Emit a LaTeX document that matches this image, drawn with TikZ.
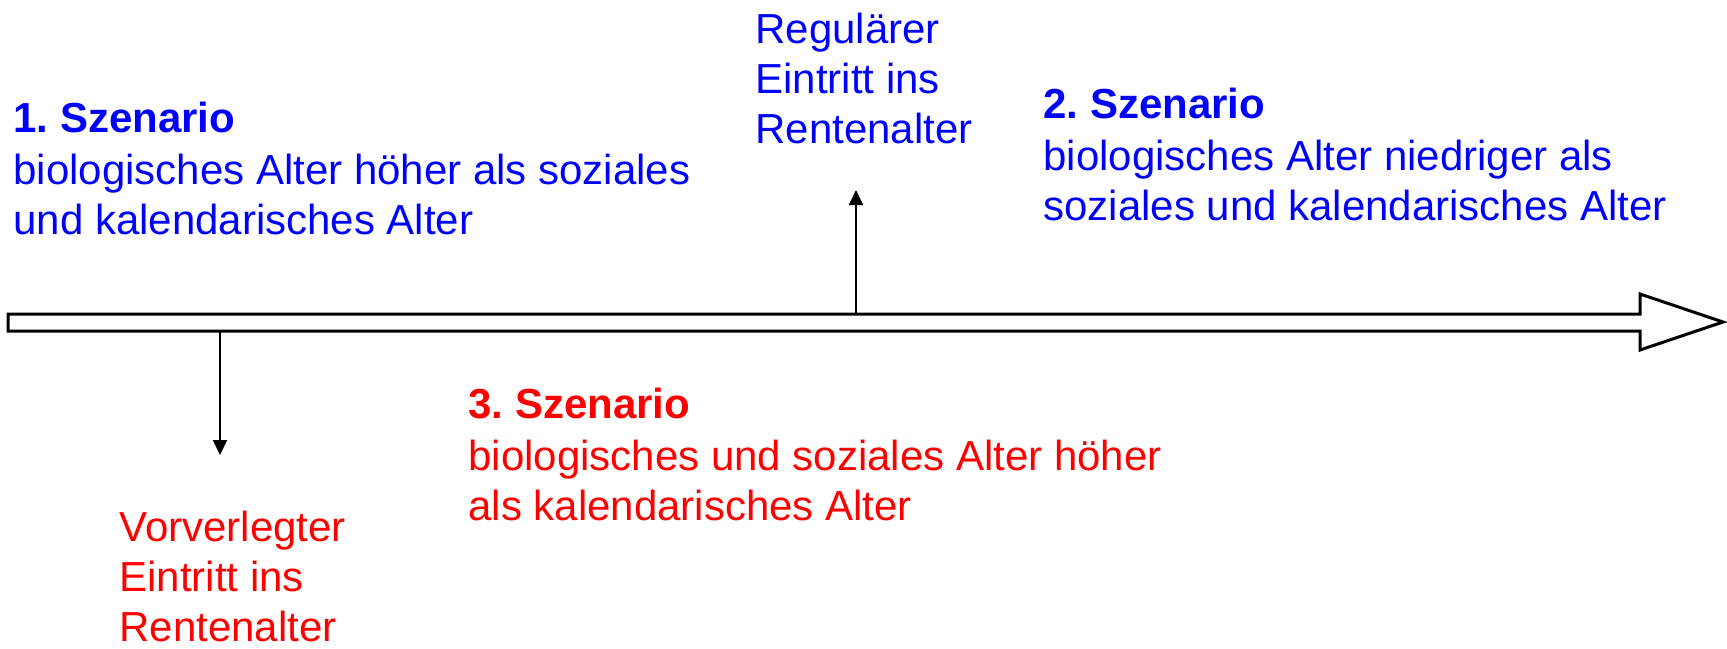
\documentclass[tikz,border=0pt]{standalone}
\usepackage{fontspec}
\setmainfont{Liberation Sans}
\usetikzlibrary{arrows.meta}
\definecolor{szblue}{RGB}{0,0,255}
\definecolor{szred}{RGB}{255,0,0}
\frenchspacing
\begin{document}
\begin{tikzpicture}[x=0.5pt,y=-0.5pt]
      \tikzset{txt/.style={anchor=base west,inner sep=0pt,align=left,font=\fontsize{21}{25}\selectfont},
               pfeil/.style={line width=1pt,-{Triangle[length=7.5pt,width=7pt]}}}
        \useasboundingbox (0,0) rectangle (1727,648);

        % Zeitachse
        \draw[line width=1.5pt,fill=white] (8,314)--(1640,314)--(1640,294)--(1723,322)--(1640,350)--(1640,331)--(8,331)--cycle;

        % Knoten liegen mit der Grundlinie der letzten Zeile
        \node[txt,szblue] (sz1) at (13,234) {\textbf{1. Szenario}\\[1pt]biologisches Alter höher als soziales\\und kalendarisches Alter};
        \node[txt,szblue] (sz2) at (1043,220) {\textbf{2. Szenario}\\[1pt]biologisches Alter niedriger als\\soziales und kalendarisches Alter};
        \node[txt,szred] (sz3) at (468,520) {\textbf{3. Szenario}\\[1pt]biologisches und soziales Alter höher\\als kalendarisches Alter};

        \node[txt,szblue] (reg) at (755,143) {Regulärer\\Eintritt ins\\Rentenalter};
        \node[txt,szred] (vor) at (119,641) {Vorverlegter\\Eintritt ins\\Rentenalter};

        \coordinate (regfuss) at (856,314);
        \coordinate (regspitze) at (856,190);
        \coordinate (vorfuss) at (220,331);
        \coordinate (vorspitze) at (220,455);
        \draw[pfeil] (regfuss)--(regspitze);
        \draw[pfeil] (vorfuss)--(vorspitze);

    \end{tikzpicture}
\end{document}
